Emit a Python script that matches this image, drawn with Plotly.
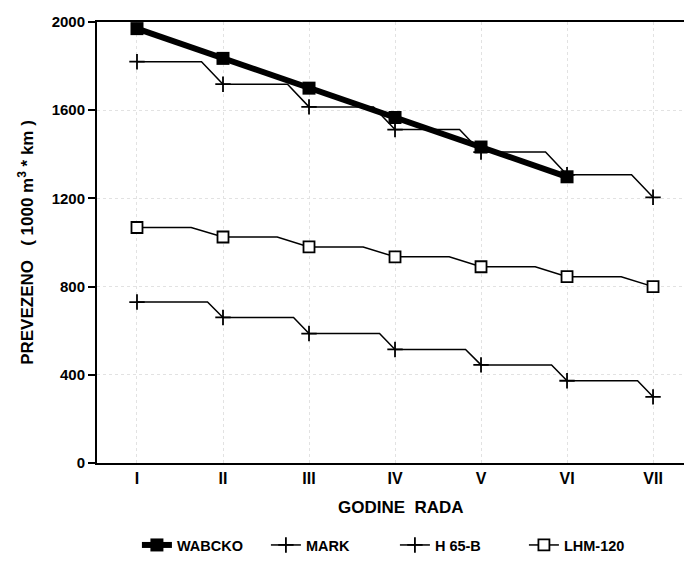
import plotly.graph_objects as go

# Years of operation (x) and transported volume per machine (1000 m3 * km)
years = ["I", "II", "III", "IV", "V", "VI", "VII"]
wabcko = [1970, 1835, 1700, 1567, 1433, 1298]
mark = [1820, 1718, 1615, 1512, 1410, 1307, 1205]
h65b = [730, 660, 587, 515, 445, 373, 300]
lhm120 = [1068, 1025, 980, 935, 890, 845, 800]

# Where along each year interval the stepped lines start to drop
knee = {"MARK": 0.75, "H 65-B": 0.82, "LHM-120": 0.63}

FONT = "Liberation Sans, Arial, sans-serif"


def stepped(values, frac):
    """Hold each value most of the year, then slope down to the next one."""
    xs, ys = [], []
    for i, v in enumerate(values):
        xs.append(i + 1)
        ys.append(v)
        if i < len(values) - 1:
            xs.append(i + 1 + frac)
            ys.append(v)
    return xs, ys


fig = go.Figure()

cross = dict(symbol="cross-thin", size=11, color="black",
             line=dict(width=1.8, color="black"))
series = [
    ("WABCKO", wabcko, None,
     dict(width=6), dict(symbol="square", size=13, color="black")),
    ("MARK", mark, knee["MARK"], dict(width=1.5), cross),
    ("H 65-B", h65b, knee["H 65-B"], dict(width=1.5), cross),
    ("LHM-120", lhm120, knee["LHM-120"],
     dict(width=1.5), dict(symbol="square", size=11, color="white",
                           line=dict(width=1.8, color="black"))),
]

for name, vals, frac, line, marker in series:
    xpos = list(range(1, len(vals) + 1))
    if frac is None:
        lx, ly = xpos, vals
    else:
        lx, ly = stepped(vals, frac)
    fig.add_trace(go.Scatter(x=lx, y=ly, mode="lines",
                             line=dict(color="black", **line),
                             showlegend=False, hoverinfo="skip"))
    fig.add_trace(go.Scatter(x=xpos, y=vals, mode="markers", marker=marker,
                             name=name, showlegend=False))
    # legend entry showing both the line and the marker
    fig.add_trace(go.Scatter(x=[None], y=[None], mode="lines+markers",
                             line=dict(color="black", **line), marker=marker,
                             name=name, showlegend=True))

bold = dict(family=FONT, weight="bold", color="black")

fig.update_layout(
    width=684, height=574,
    margin=dict(l=97, r=0, t=22, b=111),
    paper_bgcolor="white", plot_bgcolor="white",
    font=dict(size=14, **bold),
    showlegend=True,
    legend=dict(orientation="h", x=0.068, xanchor="left", y=-0.186,
                yanchor="middle", font=dict(size=14.5, **bold),
                entrywidth=84, entrywidthmode="pixels",
                itemwidth=30, tracegroupgap=0),
    xaxis=dict(
        range=[0.535, 7.36],
        tickmode="array", tickvals=list(range(1, len(years) + 1)),
        ticktext=years, ticks="", tickfont=dict(size=16, **bold),
        showline=True, linecolor="black", linewidth=2, mirror=True,
        showgrid=True, gridcolor="#e2e2e2", griddash="dot", gridwidth=1,
        zeroline=False,
    ),
    yaxis=dict(
        range=[0, 2000], tickvals=[0, 400, 800, 1200, 1600, 2000],
        ticks="outside", ticklen=7, tickwidth=1.5, tickcolor="black",
        tickfont=dict(size=15, **bold),
        showline=True, linecolor="black", linewidth=2,
        showgrid=True, gridcolor="#e2e2e2", griddash="dot", gridwidth=1,
        zeroline=False,
        title=dict(text="PREVEZENO   ( 1000 m<sup>3</sup> * km )",
                   font=dict(size=17, **bold), standoff=14),
    ),
    annotations=[dict(
        text="GODINE  RADA", xref="paper", yref="paper",
        x=0.518, y=-0.1, xanchor="center", yanchor="middle",
        showarrow=False, font=dict(size=17, **bold),
    )],
)

fig.write_html("out.html")
